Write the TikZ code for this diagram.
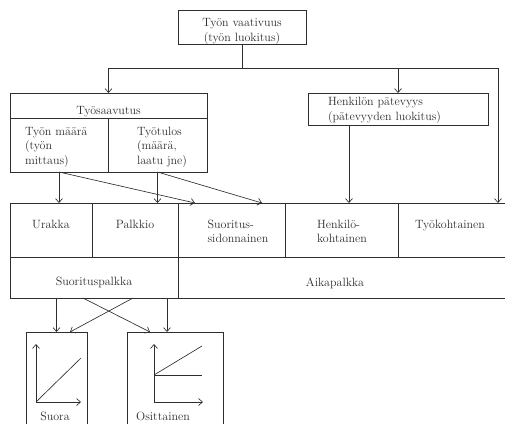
\documentclass[tikz,border=0pt]{standalone}
\usetikzlibrary{arrows.meta}
\definecolor{ink}{HTML}{2E2E2E}
\newcommand{\fs}{\fontsize{12}{14.5}\selectfont}
\begin{document}
\begin{tikzpicture}[x=1pt,y=-1pt,
  ln/.style={line width=0.65pt, draw=ink},
  arr/.style={ln, -{Straight Barb[length=4pt,width=7pt]}},
  box/.style={ln, rectangle, inner sep=0pt, outer sep=0pt},
  plain/.style={rectangle, inner sep=0pt, outer sep=0pt},
  txt/.style={text=ink, font=\fs, align=left, inner sep=0pt, outer sep=0pt},
]
\useasboundingbox (0,0) rectangle (505,424);

% top box
\node[box, minimum width=128pt, minimum height=34pt] (top) at (242,27) {};
\node[txt, align=center] (toptxt) at (242,31.5) {Työn vaativuus\\(työn luokitus)};

% Työsaavutus group
\node[box, minimum width=197pt, minimum height=25pt] (tys) at (108.5,105.5) {};
\node[txt, anchor=base] (tystxt) at (108.5,114) {Työsaavutus};
\node[box, minimum width=98pt, minimum height=54pt] (maara) at (59,145) {};
\node[box, minimum width=99pt, minimum height=54pt] (tulos) at (157.5,145) {};
\node[txt, anchor=north west] (maaratxt) at (25,127) {Työn määrä\\(työn\\mittaus)};
\node[txt, anchor=north west] (tulostxt) at (137,127) {Työtulos\\(määrä,\\laatu jne)};

% Henkilön pätevyys
\node[box, minimum width=180pt, minimum height=32pt] (henk) at (398,109) {};
\node[txt, anchor=west] (henktxt) at (328,110.5) {Henkilön pätevyys\\(pätevyyden luokitus)};

% main grid
\node[box, minimum width=82pt, minimum height=54pt] (urakka) at (51,230) {};
\node[box, minimum width=86pt, minimum height=54pt] (palkkio) at (135,230) {};
\node[box, minimum width=107pt, minimum height=54pt] (suor) at (231.5,230) {};
\node[box, minimum width=113pt, minimum height=54pt] (henko) at (341.5,230) {};
\node[plain, minimum width=107pt, minimum height=54pt] (tyok) at (451.5,230) {};
\node[box, minimum width=168pt, minimum height=41pt] (spalkka) at (94,277.5) {};
\node[plain, minimum width=327pt, minimum height=41pt] (aika) at (341.5,277.5) {};
\draw[ln] (tyok.north west) -- (tyok.north east);
\draw[ln] (tyok.south west) -- (tyok.south east);
\draw[ln] (aika.south west) -- (aika.south east);

\node[txt, anchor=north] (urakkatxt) at (51,220) {Urakka};
\node[txt, anchor=north] (palkkiotxt) at (135,220) {Palkkio};
\node[txt, anchor=north] (suortxt) at (238,220) {Suoritus-\\sidonnainen};
\node[txt, anchor=north] (henkotxt) at (342,220) {Henkilö-\\kohtainen};
\node[txt, anchor=north] (tyoktxt) at (450,220) {Työkohtainen};
\node[txt, anchor=base] (spalkkatxt) at (94,285.5) {Suorituspalkka};
\node[txt, anchor=base] (aikatxt) at (335,286.5) {Aikapalkka};

% bottom chart boxes (open at the bottom)
\node[plain, minimum width=61pt, minimum height=92pt] (suora) at (56.5,378) {};
\node[plain, minimum width=96pt, minimum height=92pt] (osit) at (175,378) {};
\draw[ln] (suora.south west) -- (suora.north west) -- (suora.north east) -- (suora.south east);
\draw[ln] (osit.south west) -- (osit.north west) -- (osit.north east) -- (osit.south east);
\node[txt, anchor=base] (suoratxt) at (55,420) {Suora};
\node[txt, anchor=base] (osittxt) at (163,420) {Osittainen};

% small charts
\coordinate (o1) at (36,402);
\coordinate (o1y) at (36,344);
\coordinate (o1x) at (81,402);
\coordinate (o1l) at (81,358);
\draw[arr] (o1) -- (o1y);
\draw[arr] (o1) -- (o1x);
\draw[ln] (o1) -- (o1l);
\coordinate (o2) at (154,402);
\coordinate (o2y) at (154,344);
\coordinate (o2x) at (203,402);
\coordinate (o2m) at (154,375);
\coordinate (o2l) at (202,346);
\coordinate (o2h) at (202,375);
\draw[arr] (o2) -- (o2y);
\draw[arr] (o2) -- (o2x);
\draw[ln] (o2m) -- (o2l);
\draw[ln] (o2m) -- (o2h);

% connectors from top
\coordinate (hub) at (242,68);
\coordinate (tyokin) at (498,203);
\draw[ln] (top.south) -- (hub);
\draw[arr] (hub) -| (tys.north);
\draw[arr] (hub) -| (henk.north);
\draw[arr] (hub) -| (tyokin);
\coordinate (hk) at (349,203);
\draw[arr] (henk.south -| hk) -- (hk);

% from Työsaavutus
\coordinate (s1) at (195,203);
\coordinate (s2) at (262,203);
\draw[arr] (maara.south) -- (maara.south |- urakka.north);
\draw[arr] (maara.south) -- (s1);
\draw[arr] (tulos.south) -- (tulos.south |- palkkio.north);
\draw[arr] (tulos.south) -- (s2);

% from Suorituspalkka
\coordinate (oc) at (167,332);
\coordinate (x1) at (83,298);
\coordinate (x1e) at (150,332);
\coordinate (x2) at (133,298);
\coordinate (x2e) at (70,332);
\draw[arr] (spalkka.south -| suora.north) -- (suora.north);
\draw[arr] (spalkka.south -| oc) -- (oc);
\draw[arr] (x1) -- (x1e);
\draw[arr] (x2) -- (x2e);
\end{tikzpicture}
\end{document}
